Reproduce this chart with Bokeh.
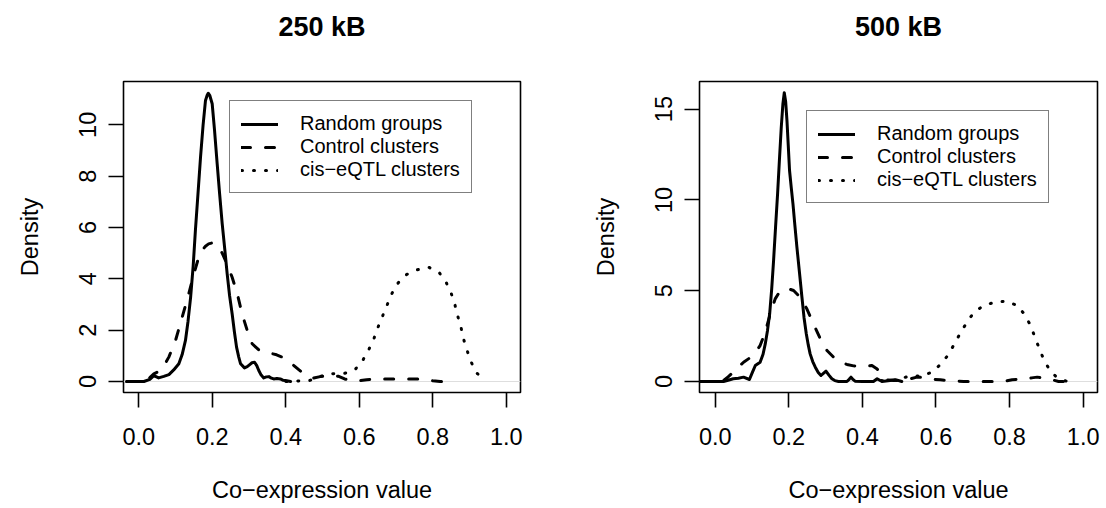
from bokeh.plotting import figure
from bokeh.layouts import row
from bokeh.models import FixedTicker, Span, Range1d, Title
from bokeh.embed import file_html
from bokeh.resources import INLINE

# ---------------- data ----------------
panel_titles = ["250 kB", "500 kB"]
series_names = ["Random groups", "Control clusters", "cis\u2212eQTL clusters"]
x_ticks = [0.0, 0.2, 0.4, 0.6, 0.8, 1.0]
x_tick_labels = ["0.0", "0.2", "0.4", "0.6", "0.8", "1.0"]
y_ticks_250 = [0, 2, 4, 6, 8, 10]
y_ticks_500 = [0, 5, 10, 15]
x_label = "Co\u2212expression value"
y_label = "Density"

# 250 kB panel
random_250_x = [-0.033, 0.0, 0.014, 0.03, 0.041, 0.054, 0.068, 0.082, 0.095, 0.109, 0.118, 0.127,
                0.134, 0.141, 0.148, 0.154, 0.161, 0.168, 0.175, 0.1815, 0.186, 0.189, 0.193, 0.1997,
                0.206, 0.2133, 0.22, 0.227, 0.234, 0.2405, 0.247, 0.254, 0.26, 0.266, 0.272, 0.277,
                0.2876, 0.295, 0.301, 0.308, 0.315, 0.321, 0.3265, 0.333, 0.340, 0.347, 0.354, 0.361,
                0.367, 0.376, 0.385, 0.392, 0.399, 0.413]
random_250_y = [0, 0, 0, 0.08, 0.23, 0.14, 0.2, 0.27, 0.45, 0.69, 1.05, 1.6,
                2.35, 3.28, 4.5, 5.88, 7.3, 8.74, 10.0, 10.95, 11.15, 11.23, 11.15, 10.82,
                9.8, 8.48, 7.3, 6.14, 5.15, 4.19, 3.35, 2.64, 1.95, 1.34, 0.95, 0.69,
                0.53, 0.58, 0.65, 0.73, 0.75, 0.62, 0.43, 0.25, 0.14, 0.18, 0.19, 0.13,
                0.1, 0.12, 0.1, 0.05, 0.04, 0]
control_250_x = [-0.033, 0.0, 0.018, 0.03, 0.041, 0.059, 0.07, 0.0817, 0.1, 0.118, 0.136, 0.15,
                 0.163, 0.172, 0.1815, 0.19, 0.1997, 0.209, 0.2177, 0.227, 0.236, 0.245, 0.254, 0.268,
                 0.281, 0.295, 0.3085, 0.3265, 0.342, 0.358, 0.375, 0.390, 0.405, 0.422, 0.436, 0.449,
                 0.462, 0.476, 0.4935, 0.5126, 0.53, 0.544, 0.56, 0.576, 0.6, 0.62, 0.65, 0.7,
                 0.75, 0.78, 0.8, 0.82, 0.825]
control_250_y = [0, 0, 0.04, 0.15, 0.3, 0.43, 0.65, 0.95, 1.6, 2.5, 3.42, 4.19,
                 4.84, 5.1, 5.27, 5.36, 5.40, 5.35, 5.23, 5.0, 4.71, 4.4, 4.06, 3.42,
                 2.64, 1.99, 1.47, 1.23, 1.15, 1.10, 1.04, 0.95, 0.8, 0.62, 0.45, 0.3,
                 0.2, 0.14, 0.19, 0.23, 0.22, 0.2, 0.1, 0.04, 0.03, 0.07, 0.1, 0.1,
                 0.1, 0.08, 0.03, 0.0, 0.0]
cis_250_x = [0.40, 0.43, 0.465, 0.495, 0.526, 0.545, 0.56, 0.575, 0.59, 0.61, 0.626, 0.6395,
             0.651, 0.663, 0.676, 0.6884, 0.705, 0.7276, 0.7575, 0.789, 0.818, 0.8364, 0.85, 0.86,
             0.868, 0.877, 0.884, 0.894, 0.905, 0.92, 0.946]
cis_250_y = [0, 0.02, 0.04, 0.2, 0.30, 0.32, 0.32, 0.38, 0.49, 0.84, 1.25, 1.66,
             2.12, 2.54, 2.99, 3.42, 3.83, 4.16, 4.35, 4.45, 4.23, 3.86, 3.44, 3.0,
             2.54, 2.09, 1.64, 1.18, 0.74, 0.32, 0.04]

# 500 kB panel
random_500_x = [-0.041, 0.0, 0.0227, 0.035, 0.049, 0.063, 0.077, 0.093, 0.101, 0.109, 0.122, 0.13,
                0.136, 0.142, 0.148, 0.1535, 0.1586, 0.164, 0.1695, 0.1745, 0.1795, 0.184, 0.1877, 0.1915,
                0.195, 0.1985, 0.202, 0.2065, 0.2113, 0.2165, 0.222, 0.229, 0.2357, 0.2415, 0.2475, 0.253,
                0.258, 0.265, 0.272, 0.28, 0.2874, 0.294, 0.301, 0.309, 0.317, 0.325, 0.335, 0.358,
                0.364, 0.369, 0.375, 0.38, 0.40, 0.43, 0.44, 0.453, 0.475, 0.49, 0.507]
random_500_y = [0, 0, 0, 0.07, 0.15, 0.18, 0.24, 0.11, 0.5, 0.88, 1.06, 1.5,
                2.07, 2.8, 3.73, 5.1, 6.66, 8.5, 10.33, 12.2, 14.0, 15.3, 15.9, 15.4,
                14.37, 13.0, 11.62, 10.7, 9.78, 8.6, 7.4, 6.0, 4.64, 3.5, 2.63, 2.0,
                1.52, 1.1, 0.79, 0.5, 0.33, 0.45, 0.57, 0.35, 0.15, 0.05, 0, 0,
                0.12, 0.24, 0.1, 0.02, 0, 0, 0.15, 0, 0.05, 0.1, 0]
control_500_x = [-0.041, 0.0, 0.0227, 0.035, 0.049, 0.063, 0.077, 0.0998, 0.111, 0.122, 0.136, 0.1496,
                 0.163, 0.177, 0.186, 0.195, 0.204, 0.213, 0.231, 0.249, 0.267, 0.2856, 0.3037, 0.326,
                 0.342, 0.358, 0.376, 0.394, 0.41, 0.426, 0.438, 0.449, 0.467, 0.494, 0.512, 0.53,
                 0.548, 0.565, 0.58, 0.612, 0.644, 0.675, 0.707, 0.745, 0.77, 0.79, 0.807, 0.838,
                 0.86, 0.875, 0.902, 0.92, 0.933, 0.965]
control_500_y = [0, 0, 0.05, 0.25, 0.51, 0.8, 1.06, 1.38, 1.65, 1.98, 2.72, 3.73,
                 4.55, 5.01, 5.08, 5.1, 5.07, 5.01, 4.64, 4.0, 3.18, 2.35, 1.71, 1.25,
                 1.05, 0.94, 0.86, 0.83, 0.84, 0.88, 0.72, 0.51, 0.09, 0.05, 0.06, 0.15,
                 0.24, 0.22, 0.15, 0.09, 0.04, 0, 0, 0, 0, 0.03, 0.1, 0.12,
                 0.2, 0.24, 0.17, 0.07, 0, 0]
cis_500_x = [0.42, 0.45, 0.475, 0.4985, 0.526, 0.56, 0.589, 0.614, 0.634, 0.65, 0.666, 0.683,
             0.702, 0.727, 0.759, 0.79, 0.8205, 0.841, 0.857, 0.868, 0.88, 0.892, 0.9075, 0.929,
             0.957]
cis_500_y = [0, 0.05, 0.03, 0.1, 0.3, 0.3, 0.51, 0.97, 1.49, 2.07, 2.66, 3.23,
             3.78, 4.15, 4.37, 4.42, 4.19, 3.69, 3.08, 2.48, 1.85, 1.25, 0.68, 0.2,
             0]

# ---------------- styling ----------------
FONT = "Liberation Sans"
TICK_FS = "23.5px"
LINE_W = 3
styles = [dict(line_dash="solid"), dict(line_dash="9 15"), dict(line_dash="1 11")]


def make_panel(title, curves, yticks, xr, yr, b_left, b_right, legend_xy):
    p = figure(width=553, height=508, x_range=Range1d(*xr), y_range=Range1d(*yr),
               output_backend="svg", toolbar_location=None,
               min_border_left=b_left, min_border_right=b_right,
               min_border_top=81, min_border_bottom=116,
               background_fill_color="white", border_fill_color="white",
               outline_line_color="black", outline_line_width=1.6)
    # a trailing empty line lifts the (vertically centred) title towards the page top
    p.add_layout(Title(text=title + "\n", align="center", text_font=FONT,
                       text_font_size="27px", text_font_style="bold", text_color="black",
                       standoff=19), "above")

    p.add_layout(Span(location=0, dimension="width", line_color="#dedede",
                      line_width=1, level="underlay"))

    for (xs, ys), name, st in zip(curves, series_names, styles):
        p.line(xs, ys, line_color="black", line_width=LINE_W, line_cap="round",
               line_join="round", legend_label=name, **st)

    p.grid.visible = False
    for ax in (p.xaxis[0], p.yaxis[0]):
        ax.axis_line_color = None
        ax.major_tick_line_color = "black"
        ax.major_tick_line_width = 1.6
        ax.major_tick_out = 15
        ax.major_tick_in = 0
        ax.minor_tick_line_color = None
        ax.major_label_text_font = FONT
        ax.major_label_text_font_size = TICK_FS
        ax.major_label_text_color = "black"
        ax.axis_label_text_font = FONT
        ax.axis_label_text_font_size = TICK_FS
        ax.axis_label_text_font_style = "normal"
        ax.axis_label_text_color = "black"

    p.xaxis.ticker = FixedTicker(ticks=x_ticks)
    p.xaxis.major_label_overrides = {t: s for t, s in zip(x_ticks, x_tick_labels)}
    p.xaxis.axis_label = x_label
    p.xaxis.major_label_standoff = 20
    p.xaxis.axis_label_standoff = 29

    p.yaxis.ticker = FixedTicker(ticks=yticks)
    p.yaxis.major_label_overrides = {t: str(t) for t in yticks}
    p.yaxis.axis_label = y_label
    p.yaxis.major_label_orientation = "parallel"
    p.yaxis.major_label_standoff = 12
    p.yaxis.axis_label_standoff = 34

    lg = p.legend[0]
    lg.location = legend_xy
    lg.margin = 0
    lg.padding = 11
    lg.spacing = 0
    lg.glyph_width = 37
    lg.glyph_height = 20
    lg.label_height = 20
    lg.label_standoff = 22
    lg.label_text_align = "left"
    lg.label_text_font = FONT
    lg.label_text_font_size = "20px"
    lg.label_text_color = "black"
    lg.border_line_color = "black"
    lg.border_line_width = 1.6
    lg.background_fill_alpha = 1.0
    return p


p1 = make_panel(panel_titles[0],
                [(random_250_x, random_250_y), (control_250_x, control_250_y), (cis_250_x, cis_250_y)],
                y_ticks_250, (-0.0416, 1.0386), (-0.4285, 11.687), 123, 33, (106, 199))
p2 = make_panel(panel_titles[1],
                [(random_500_x, random_500_y), (control_500_x, control_500_y), (cis_500_x, cis_500_y)],
                y_ticks_500, (-0.0427, 1.0389), (-0.606, 16.52), 146, 9, (107, 189))

layout = row(p1, p2)
open("out.html", "w").write(file_html(layout, INLINE))
